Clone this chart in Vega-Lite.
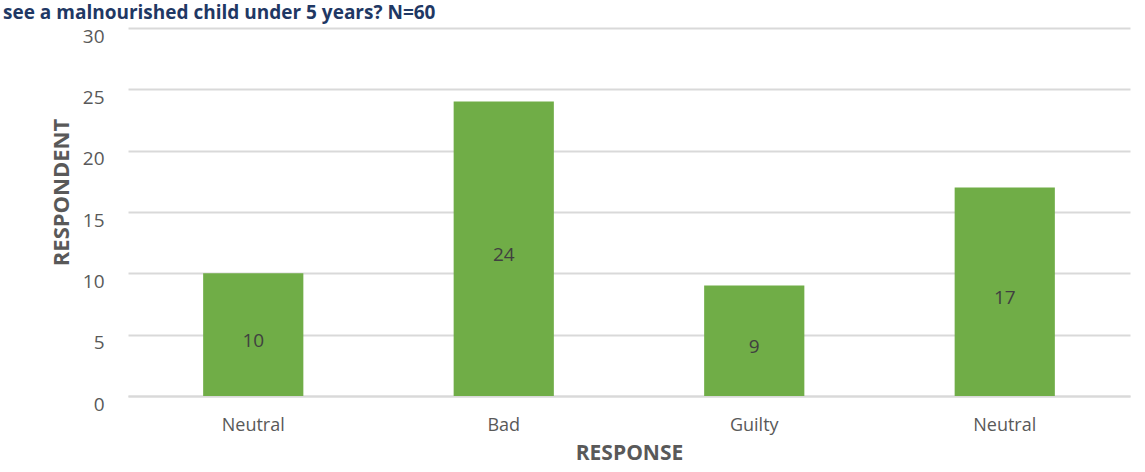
{
  "$schema": "https://vega.github.io/schema/vega-lite/v6.json",
  "autosize": {"type": "none"},
  "width": 1002,
  "height": 368,
  "padding": {"left": 128, "top": 28, "right": 15, "bottom": 76},
  "background": "white",
  "title": {
    "text": "see a malnourished child under 5 years? N=60",
    "anchor": "start",
    "frame": "group",
    "orient": "top",
    "offset": 0,
    "baseline": "top",
    "dx": -125,
    "dy": -4,
    "font": "Open Sans",
    "fontSize": 19,
    "fontWeight": "bold",
    "color": "#1F3864"
  },
  "data": {
    "values": [
      {"response": "Neutral#1", "respondent": 10},
      {"response": "Bad#2", "respondent": 24},
      {"response": "Guilty#3", "respondent": 9},
      {"response": "Neutral#4", "respondent": 17}
    ]
  },
  "config": {
    "view": {"stroke": null},
    "font": "Open Sans"
  },
  "layer": [
    {
      "mark": {"type": "bar", "color": "#70AD47"},
      "encoding": {
        "x": {
          "field": "response",
          "type": "nominal",
          "sort": null,
          "scale": {"paddingInner": 0.6, "paddingOuter": 0.3},
          "axis": {
            "title": "RESPONSE",
            "titleFont": "Open Sans",
            "titleFontSize": 21,
            "titleFontWeight": "bold",
            "titleColor": "#595959",
            "titlePadding": 8,
            "labelExpr": "split(datum.label, '#')[0]",
            "labelAngle": 0,
            "labelFont": "Open Sans",
            "labelFontSize": 18,
            "labelColor": "#595959",
            "labelPadding": 20,
            "ticks": false,
            "domainColor": "#D9D9D9",
            "domainWidth": 2
          }
        },
        "y": {
          "field": "respondent",
          "type": "quantitative",
          "scale": {"domain": [0, 30]},
          "axis": {
            "title": "RESPONDENT",
            "titleFont": "Open Sans",
            "titleFontSize": 22,
            "titleFontWeight": "bold",
            "titleColor": "#595959",
            "titleY": 164,
            "titleX": -55,
            "values": [0, 5, 10, 15, 20, 25, 30],
            "labelFont": "Open Sans",
            "labelFontSize": 19,
            "labelColor": "#595959",
            "labelPadding": 24,
            "labelOffset": 8,
            "ticks": false,
            "domain": false,
            "gridColor": "#D9D9D9",
            "gridWidth": 2
          }
        }
      }
    },
    {
      "mark": {"type": "text", "baseline": "middle", "dy": 6, "font": "Open Sans", "fontSize": 19, "color": "#404040"},
      "encoding": {
        "x": {"field": "response", "type": "nominal", "sort": null},
        "y": {
          "field": "respondent",
          "type": "quantitative",
          "scale": {"domain": [0, 60]},
          "axis": null
        },
        "text": {"field": "respondent", "type": "quantitative"}
      }
    }
  ],
  "resolve": {"scale": {"y": "independent"}}
}
